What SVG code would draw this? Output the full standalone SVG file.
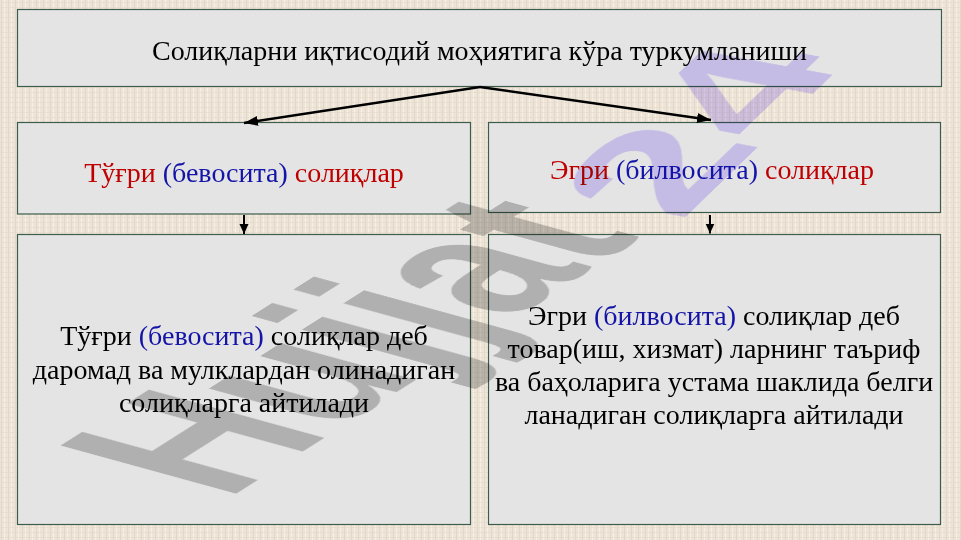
<svg xmlns="http://www.w3.org/2000/svg" width="961" height="540" viewBox="0 0 961 540">
  <defs>
    <pattern id="linen" width="7" height="5" patternUnits="userSpaceOnUse">
      <rect width="7" height="5" fill="#eee5d8"/>
      <rect x="1" y="0" width="1" height="5" fill="#e2d8c8"/>
      <rect x="4" y="0" width="1" height="5" fill="#f6f0e7"/>
      <rect x="0" y="2" width="7" height="1" fill="#e6dccd" opacity="0.7"/>
    </pattern>
    <marker id="ah" markerUnits="userSpaceOnUse" markerWidth="15" markerHeight="11" refX="14" refY="5" orient="auto">
      <path d="M0,0 L14,5 L0,10 z" fill="#000"/>
    </marker>
    <marker id="ahs" markerUnits="userSpaceOnUse" markerWidth="11" markerHeight="10" refX="10" refY="4.5" orient="auto">
      <path d="M0,0 L10,4.5 L0,9 z" fill="#000"/>
    </marker>
  </defs>
  <style>
    .box { fill: #e4e4e4; stroke: #3d5c4c; stroke-width: 1.2; }
    .t { font-family: "Liberation Serif", "Times New Roman", serif; font-size: 28px; fill: #000; text-anchor: middle; }
    .red { fill: #c00000; }
    .blue { fill: #1414a8; }
    .conn { stroke: #000; fill: none; }
    .wm { font-family: "Liberation Sans", Arial, sans-serif; font-weight: bold; font-size: 100px; }
  </style>

  <rect width="961" height="540" fill="url(#linen)"/>

  <g id="title">
    <rect class="box" x="17.5" y="9.5" width="924" height="77"/>
    <text class="t" x="479.5" y="60">Солиқларни иқтисодий моҳиятига кўра туркумланиши</text>
  </g>

  <g id="direct">
    <rect class="box" x="17.5" y="122.5" width="453" height="91.5"/>
    <text class="t" x="244" y="182"><tspan class="red">Тўғри </tspan><tspan class="blue">(бевосита)</tspan><tspan class="red"> солиқлар</tspan></text>
  </g>

  <g id="indirect">
    <rect class="box" x="488.5" y="122.5" width="452" height="90"/>
    <text class="t" x="712" y="179"><tspan class="red">Эгри </tspan><tspan class="blue">(билвосита)</tspan><tspan class="red"> солиқлар</tspan></text>
  </g>

  <g id="direct-def">
    <rect class="box" x="17.5" y="234.5" width="453" height="290"/>
    <text class="t" x="244" y="345">Тўғри <tspan class="blue">(бевосита)</tspan> солиқлар деб</text>
    <text class="t" x="244" y="379">даромад ва мулклардан олинадиган</text>
    <text class="t" x="244" y="412">солиқларга айтилади</text>
  </g>

  <g id="indirect-def">
    <rect class="box" x="488.5" y="234.5" width="452" height="290"/>
    <text class="t" x="714" y="324.5">Эгри <tspan class="blue">(билвосита)</tspan> солиқлар деб</text>
    <text class="t" x="714" y="357.5">товар(иш, хизмат) ларнинг таъриф</text>
    <text class="t" x="714" y="390.5">ва баҳоларига устама шаклида белги</text>
    <text class="t" x="714" y="423.5">ланадиган солиқларга айтилади</text>
  </g>

  <g id="connectors">
    <line class="conn" x1="480" y1="87" x2="244" y2="123" stroke-width="2.6" marker-end="url(#ah)"/>
    <line class="conn" x1="480" y1="87" x2="711" y2="120" stroke-width="2.6" marker-end="url(#ah)"/>
    <line class="conn" x1="244" y1="215" x2="244" y2="234" stroke-width="2" marker-end="url(#ahs)"/>
    <line class="conn" x1="710" y1="215" x2="710" y2="233.5" stroke-width="2" marker-end="url(#ahs)"/>
  </g>

  <g id="watermark" style="mix-blend-mode: multiply">
    <text class="wm" fill="#c5c5c5" transform="matrix(1.50,-0.95,2.55,0.70,226,500)">Hujjat</text>
    <text class="wm" fill="#dbd2ff" transform="matrix(1.5,-1.45,1.9,0.35,680,222)">24</text>
  </g>
</svg>
